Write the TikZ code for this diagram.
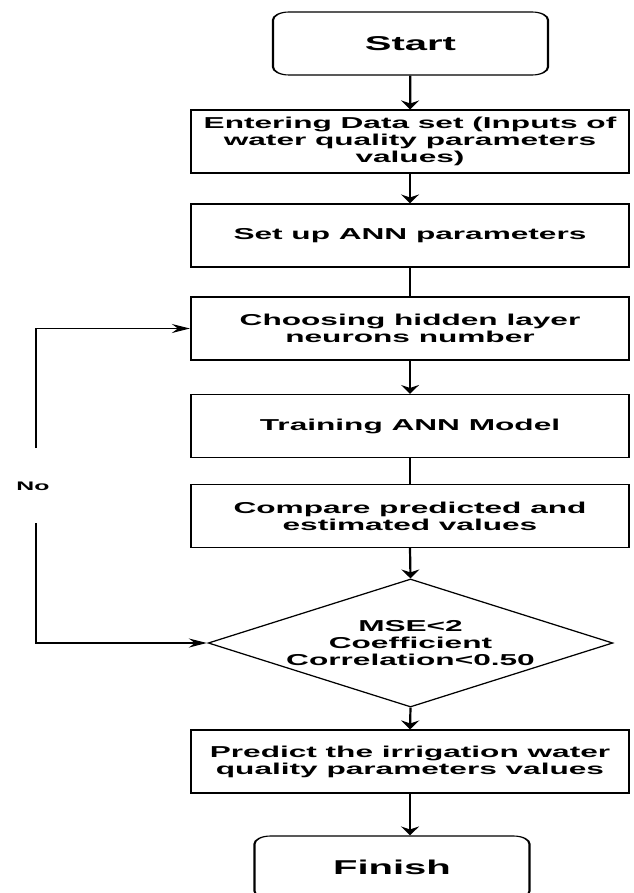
\documentclass[tikz,border=0pt]{standalone}
\usepackage{fontspec}
\setmainfont{Liberation Sans}
\usetikzlibrary{shapes.geometric,arrows.meta}
\begin{document}
\begin{tikzpicture}[x=1pt,y=1pt,
  box/.style={draw, line width=1.1pt, minimum width=219pt, minimum height=63pt, inner sep=0pt, align=center, font=\bfseries\fontsize{15.8}{17}\selectfont},
  term/.style={draw, line width=1.1pt, rounded corners=8pt, minimum width=137.5pt, minimum height=63pt, inner sep=0pt, font=\bfseries\fontsize{20}{22}\selectfont},
  dec/.style={draw, diamond, aspect=1.58, line width=1.1pt, inner sep=0pt, minimum width=202.5pt, minimum height=128pt, align=center, font=\bfseries\fontsize{15.8}{17}\selectfont},
  lbl/.style={inner sep=0pt, font=\bfseries\fontsize{12.4}{14}\selectfont},
  arr/.style={line width=1.1pt, -{Stealth[length=9pt,width=9pt,inset=3pt]}},
  ln/.style={line width=1.1pt}]
\useasboundingbox (0,0) rectangle (633,-893);
\clip (0,0) rectangle (633,-893);
\begin{scope}[transform canvas={xscale=2}]
  \node[term] (start) at (205.25,-43.5) {Start};
  \node[box] (enter) at (205,-141.5) {Entering Data set (Inputs of\\water quality parameters\\values)};
  \node[box] (setup) at (205,-235.5) {Set up ANN parameters};
  \node[box] (choose) at (205,-328.5) {Choosing hidden layer\\neurons number};
  \node[box] (train) at (205,-426) {Training ANN Model};
  \node[box] (compare) at (205,-516) {Compare predicted and\\estimated values};
  \node[dec] (dia) at (205.25,-643) {MSE<2\\Coefficient\\Correlation<0.50};
  \node[box] (predict) at (205,-761.5) {Predict the irrigation water\\quality parameters values};
  \node[term] (finish) at (196,-867.5) {Finish};
  \node[lbl] (no) at (16.5,-486) {No};
  \coordinate (lb) at (18,-643);
  \coordinate (lt) at (18,-328.5);
  \coordinate (gb) at (18,-523);
  \coordinate (gt) at (18,-448);

  \draw[arr] (start) -- (enter);
  \draw[arr] (enter) -- (setup);
  \draw[ln] (setup) -- (choose);
  \draw[arr] (choose) -- (train);
  \draw[ln] (train) -- (compare);
  \draw[arr] (compare.south) -- (dia.north);
  \draw[arr] (dia.south) -- (predict.north);
  \draw[arr] (predict.south) -- (predict.south |- finish.north);
  \draw[arr] (gb) -- (lb) -- (dia.west);
  \draw[arr] (gt) -- (lt) -- (choose.west);
\end{scope}
\end{tikzpicture}
\end{document}
